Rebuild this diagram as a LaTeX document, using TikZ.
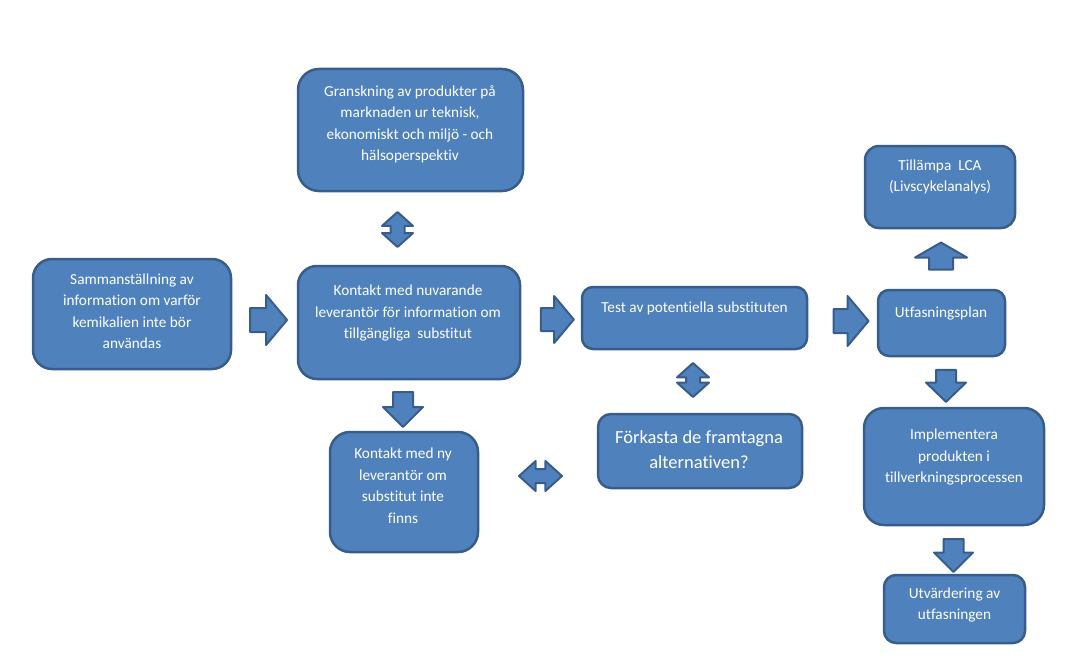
\documentclass[tikz,border=0pt]{standalone}
\usepackage{fontspec}
\setmainfont{Carlito}[Ligatures=NoCommon]
\usetikzlibrary{shapes.arrows}

\definecolor{boxfill}{HTML}{4F81BD}
\definecolor{boxline}{HTML}{385D8A}

\begin{document}
\begin{tikzpicture}[
    x=1pt,
    y=-1pt,
    line join=round,
    box/.style={
        draw=boxline,
        fill=boxfill,
        line width=2.5pt,
        rounded corners=#1,
        inner sep=0pt
    },
    txt/.style={
        text=white,
        align=center,
        inner sep=0pt,
        font=\fontsize{15.3}{21.5}\selectfont
    },
    bigtxt/.style={
        txt,
        font=\fontsize{18.5}{25}\selectfont
    },
    pil/.style={
        single arrow,
        draw=boxline,
        fill=boxfill,
        line width=2pt,
        inner xsep=0pt
    },
    dpil/.style={
        double arrow,
        draw=boxline,
        fill=boxfill,
        line width=2pt,
        inner xsep=0pt
    }
]

\useasboundingbox (0,0) rectangle (1078,658);

% =================================================
% Rutor
% =================================================

\node[box=19pt, minimum width=198pt, minimum height=110pt] (samman)  at (132,314)   {};
\node[box=21pt, minimum width=225pt, minimum height=122pt] (gransk)  at (410.5,130) {};
\node[box=19pt, minimum width=222pt, minimum height=113pt] (nuvar)   at (409,322.5) {};
\node[box=20pt, minimum width=148pt, minimum height=120pt] (nyleve)  at (404,492)   {};
\node[box=11pt, minimum width=225pt, minimum height=62pt]  (test)    at (694.5,318) {};
\node[box=13pt, minimum width=204pt, minimum height=74pt]  (forkast) at (700,451)   {};
\node[box=14pt, minimum width=150pt, minimum height=82pt]  (lca)     at (940,187)   {};
\node[box=11pt, minimum width=127pt, minimum height=66pt]  (plan)    at (941.5,323) {};
\node[box=20pt, minimum width=180pt, minimum height=117pt] (impl)    at (954,466.5) {};
\node[box=12pt, minimum width=141pt, minimum height=68pt]  (utvard)  at (954.5,609) {};

% =================================================
% Texter
% =================================================

\node[txt] (sammanT) at (132,311)
    {Sammanställning av\\information om varför\\kemikalien inte bör\\användas};
\node[txt] (granskT) at (410,124.5)
    {Granskning av produkter på\\marknaden ur teknisk,\\ekonomiskt och miljö - och\\hälsoperspektiv};
\node[txt] (nuvarT) at (408,313)
    {Kontakt med nuvarande\\leverantör för information om\\tillgängliga\ \ substitut};
\node[txt] (nyleveT) at (403,485.5)
    {Kontakt med ny\\leverantör om\\substitut inte\\finns};
\node[txt] (testT) at (694.5,308)
    {Test av potentiella substituten};
\node[bigtxt] (forkastT) at (699,449.5)
    {Förkasta de framtagna\\alternativen?};
\node[txt] (lcaT) at (940,177)
    {Tillämpa\ \ LCA\\(Livscykelanalys)};
\node[txt] (planT) at (941,313)
    {Utfasningsplan};
\node[txt] (implT) at (954,457)
    {Implementera\\produkten i\\tillverkningsprocessen};
\node[txt] (utvardT) at (954.5,605)
    {Utvärdering av\\utfasningen};

% =================================================
% Blockpilar
% =================================================

% enkla pilar
\node[pil, minimum height=37pt, inner ysep=11pt, single arrow head extend=13pt,
      single arrow tip angle=100] (p1) at (263.5,320) {};
\node[pil, minimum height=33pt, inner ysep=10.5pt, single arrow head extend=12pt,
      single arrow tip angle=100] (p2) at (552.5,319.5) {};
\node[pil, minimum height=35pt, inner ysep=11pt, single arrow head extend=13pt,
      single arrow tip angle=100] (p3) at (846,321) {};
\node[pil, rotate=-90, minimum height=35pt, inner ysep=9pt, single arrow head extend=10pt,
      single arrow tip angle=90] (p4) at (403,404.5) {};
\node[pil, rotate=90, minimum height=27pt, inner ysep=11pt, single arrow head extend=14pt,
      single arrow tip angle=120] (p5) at (941,259.5) {};
\node[pil, rotate=-90, minimum height=32pt, inner ysep=9pt, single arrow head extend=10pt,
      single arrow tip angle=92] (p6) at (946,381) {};
\node[pil, rotate=-90, minimum height=33pt, inner ysep=9pt, single arrow head extend=9.5pt,
      single arrow tip angle=90] (p7) at (953.5,550.5) {};

% dubbelpilar
\node[dpil, rotate=90, minimum height=35pt, inner ysep=6pt, double arrow head extend=8.5pt,
      double arrow tip angle=96] (d1) at (397.5,229.5) {};
\node[dpil, rotate=90, minimum height=34pt, inner ysep=6pt, double arrow head extend=9pt,
      double arrow tip angle=96] (d2) at (693,380) {};
\node[dpil, minimum height=43pt, inner ysep=6pt, double arrow head extend=8pt,
      double arrow tip angle=84] (d3) at (540.5,476) {};

\end{tikzpicture}
\end{document}
